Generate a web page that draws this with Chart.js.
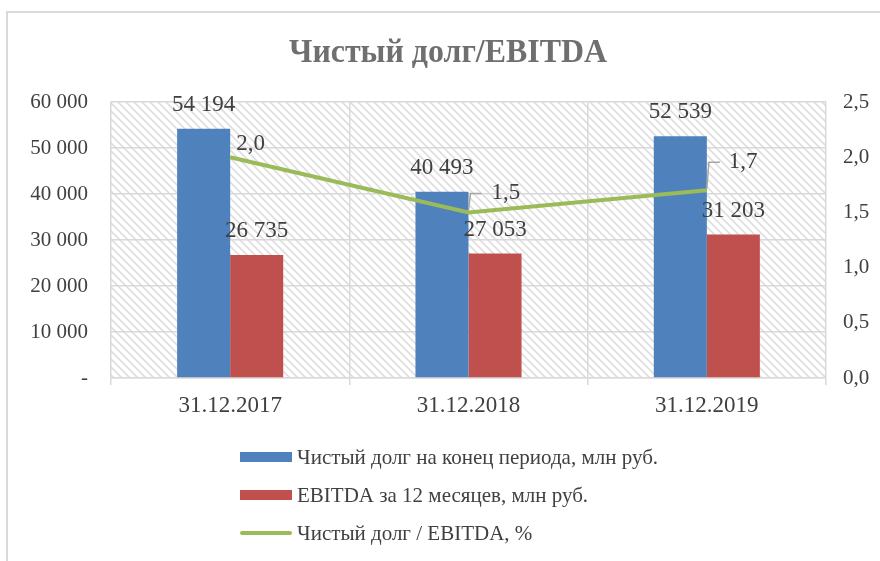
<!DOCTYPE html>
<html>
<head>
<meta charset="utf-8">
<script src="https://cdn.jsdelivr.net/npm/chart.js@4.4.1/dist/chart.umd.min.js"></script>
<style>
  html, body { margin: 0; padding: 0; background: #fff; }
  #wrap { width: 880px; height: 561px; }
</style>
</head>
<body>
<div id="wrap"><canvas id="mycanvas" width="880" height="561"></canvas></div>
<script>
// data
var dates = ['31.12.2017', '31.12.2018', '31.12.2019'];
var netDebt = [54194, 40493, 52539];
var ebitda = [26735, 27053, 31203];
var ratio = [2.0, 1.5, 1.7];
var leftTickLabels = ['-', '10 000', '20 000', '30 000', '40 000', '50 000', '60 000'];
var rightTickLabels = ['0,0', '0,5', '1,0', '1,5', '2,0', '2,5'];

var serif = '"Liberation Serif", "Times New Roman", serif';
var textColor = '#404040';
var gridColor = '#d9d9d9';

function fmtThousands(v) { return String(v).replace(/\B(?=(\d{3})+(?!\d))/g, ' '); }
function fmtRatio(v) { return v.toFixed(1).replace('.', ','); }

// diagonal hatch for the plot area
function makeHatch(ctx) {
  var c = document.createElement('canvas');
  c.width = 8; c.height = 8;
  var g = c.getContext('2d');
  g.fillStyle = '#fff';
  g.fillRect(0, 0, 8, 8);
  g.strokeStyle = '#dedede';
  g.lineWidth = 1.6;
  g.beginPath();
  g.moveTo(-2, -2); g.lineTo(10, 10);
  g.moveTo(-2, 6); g.lineTo(2, 10);
  g.moveTo(6, -2); g.lineTo(10, 2);
  g.stroke();
  return ctx.createPattern(c, 'repeat');
}

var frameAndTitle = {
  id: 'frameAndTitle',
  beforeDraw: function(chart) {
    var ctx = chart.ctx, a = chart.chartArea;
    ctx.save();
    ctx.fillStyle = '#fff';
    ctx.fillRect(0, 0, chart.width, chart.height);
    ctx.strokeStyle = gridColor;
    ctx.lineWidth = 2;
    ctx.beginPath();
    ctx.moveTo(7, chart.height); ctx.lineTo(7, 12); ctx.lineTo(chart.width, 12);
    ctx.stroke();
    ctx.fillStyle = makeHatch(ctx);
    ctx.fillRect(a.left, a.top, a.right - a.left, a.bottom - a.top);

    // title, slightly condensed
    var title = 'Чистый долг/EBITDA';
    ctx.font = 'bold 33px ' + serif;
    var w = ctx.measureText(title).width;
    var sx = Math.min(1, 318 / w);
    ctx.translate(448, 62);
    ctx.scale(sx, 1);
    ctx.fillStyle = '#6f6f6f';
    ctx.textAlign = 'center';
    ctx.textBaseline = 'alphabetic';
    ctx.fillText(title, 0, 0);
    ctx.restore();
  }
};

// offsets of the ratio labels: [dx, dy, leader]
var ratioLabelPos = [[6, -13, false], [23, -19, true], [22, -28, true]];

var valueLabels = {
  id: 'valueLabels',
  afterDatasetsDraw: function(chart) {
    var ctx = chart.ctx;
    ctx.save();
    ctx.font = '23px ' + serif;
    ctx.fillStyle = textColor;
    ctx.textBaseline = 'middle';
    [0, 1].forEach(function(di) {
      var meta = chart.getDatasetMeta(di);
      meta.data.forEach(function(bar, i) {
        ctx.textAlign = 'center';
        ctx.fillText(fmtThousands(chart.data.datasets[di].data[i]), bar.x, bar.y - 24);
      });
    });
    var lineMeta = chart.getDatasetMeta(2);
    lineMeta.data.forEach(function(pt, i) {
      var p = ratioLabelPos[i];
      if (p[2]) {
        ctx.strokeStyle = '#a6a6a6';
        ctx.lineWidth = 1.5;
        ctx.beginPath();
        ctx.moveTo(pt.x, pt.y - 2);
        ctx.lineTo(pt.x + 2, pt.y + p[1]);
        ctx.lineTo(pt.x + 13, pt.y + p[1]);
        ctx.stroke();
      }
      ctx.textAlign = 'left';
      ctx.fillText(fmtRatio(ratio[i]), pt.x + p[0], pt.y + p[1]);
    });
    ctx.restore();
  }
};

var legendRows = {
  id: 'legendRows',
  afterDraw: function(chart) {
    var ctx = chart.ctx;
    ctx.save();
    ctx.font = '21px ' + serif;
    ctx.textBaseline = 'middle';
    ctx.textAlign = 'left';
    chart.data.datasets.forEach(function(ds, i) {
      var y = 457 + i * 38;
      if (ds.type === 'line') {
        ctx.strokeStyle = ds.borderColor;
        ctx.lineWidth = 4;
        ctx.lineCap = 'round';
        ctx.beginPath(); ctx.moveTo(242, y); ctx.lineTo(290, y); ctx.stroke();
      } else {
        ctx.fillStyle = ds.backgroundColor;
        ctx.fillRect(240, y - 5, 52, 10);
      }
      ctx.fillStyle = textColor;
      ctx.fillText(ds.label, 297, y + 1);
    });
    ctx.restore();
  }
};

var tickFont = { family: serif, size: 21 };

new Chart(document.getElementById('mycanvas'), {
  type: 'bar',
  data: {
    labels: dates,
    datasets: [
      { label: 'Чистый долг на конец периода, млн руб.', data: netDebt, backgroundColor: '#4f81bd',
        yAxisID: 'y', order: 2, categoryPercentage: 0.445, barPercentage: 1 },
      { label: 'EBITDA за 12 месяцев, млн руб.', data: ebitda, backgroundColor: '#c0504d',
        yAxisID: 'y', order: 2, categoryPercentage: 0.445, barPercentage: 1 },
      { type: 'line', label: 'Чистый долг / EBITDA, %', data: ratio, borderColor: '#9bbb59',
        backgroundColor: '#9bbb59', borderWidth: 4, pointRadius: 0, tension: 0, yAxisID: 'y1', order: 1 }
    ]
  },
  options: {
    responsive: false,
    animation: false,
    devicePixelRatio: 1,
    layout: { padding: { top: 102, left: 0, right: 0, bottom: 0 } },
    plugins: { legend: { display: false }, title: { display: false }, tooltip: { enabled: false } },
    scales: {
      x: {
        grid: { color: gridColor, lineWidth: 1.5, tickLength: 7, offset: true },
        border: { color: gridColor, width: 1.5 },
        ticks: { color: textColor, font: { family: serif, size: 23 }, padding: 7, maxRotation: 0 },
        afterFit: function(s) { s.height = 183; }
      },
      y: {
        position: 'left', min: 0, max: 60000,
        grid: { color: gridColor, lineWidth: 1.5, drawTicks: false },
        border: { display: false },
        ticks: { stepSize: 10000, color: textColor, font: tickFont, padding: 23,
          callback: function(v, i) { return leftTickLabels[i]; } },
        afterFit: function(s) { s.width = 111; }
      },
      y1: {
        position: 'right', min: 0, max: 2.5,
        grid: { drawOnChartArea: false, drawTicks: false },
        border: { display: false },
        ticks: { stepSize: 0.5, color: textColor, font: tickFont, padding: 17,
          callback: function(v, i) { return rightTickLabels[i]; } },
        afterFit: function(s) { s.width = 54; }
      }
    }
  },
  plugins: [frameAndTitle, valueLabels, legendRows]
});
</script>
</body>
</html>
